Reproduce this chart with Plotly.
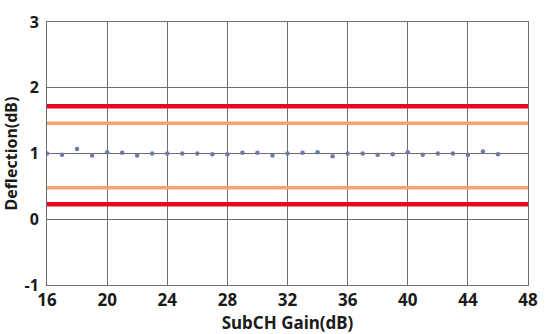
import plotly.graph_objects as go

gain_db = list(range(16, 47))
deflection_db = [1.00, 0.98, 1.07, 0.97, 1.02, 1.01, 0.97, 1.00, 1.00, 1.00,
                 1.00, 0.99, 0.99, 1.01, 1.01, 0.97, 1.00, 1.01, 1.02, 0.96,
                 1.00, 1.00, 0.98, 0.99, 1.02, 0.98, 1.00, 1.00, 0.98, 1.03, 0.99]

red_limits = [1.72, 0.23]
orange_limits = [1.46, 0.48]
x_range = [16, 48]
x_ticks = list(range(16, 49, 4))
y_ticks = [-1, 0, 1, 2, 3]
y_ticktext = ["-1", "0", "1", "2", "3"]

fig = go.Figure()
for v in orange_limits:
    fig.add_trace(go.Scatter(x=x_range, y=[v, v], mode="lines",
                             line=dict(color="#f5a36e", width=3.5), showlegend=False))
for v in red_limits:
    fig.add_trace(go.Scatter(x=x_range, y=[v, v], mode="lines",
                             line=dict(color="#e8081c", width=4.5), showlegend=False))
fig.add_trace(go.Scatter(x=gain_db, y=deflection_db, mode="markers",
                         marker=dict(color="#6b7ba6", size=4.5), showlegend=False))

font = dict(family="Noto Sans", size=17, color="#1a1a1a", weight="bold")
yfont = dict(family="Noto Sans", size=16, color="#1a1a1a", weight="bold")
fig.update_layout(
    width=549, height=334,
    margin=dict(l=47, r=11, t=14, b=46),
    paper_bgcolor="white", plot_bgcolor="white",
    font=font,
    xaxis=dict(range=x_range, tickvals=x_ticks, showgrid=True,
               gridcolor="#6e6e6e", gridwidth=1, showline=True, linecolor="#6e6e6e",
               mirror=True, zeroline=False, ticks="", ticklen=0,
               title=dict(text="SubCH Gain(dB)", standoff=0, font=dict(size=17, weight="bold")),
               tickfont=font),
    yaxis=dict(range=[-1, 3], tickvals=y_ticks, ticktext=y_ticktext, showgrid=True,
               gridcolor="#6e6e6e", gridwidth=1, showline=True, linecolor="#6e6e6e",
               mirror=True, zeroline=False, ticks="", ticklabelstandoff=4,
               title=dict(text="Deflection(dB)", standoff=2, font=dict(size=16, weight="bold")),
               tickfont=yfont),
)
fig.write_html("out.html")
